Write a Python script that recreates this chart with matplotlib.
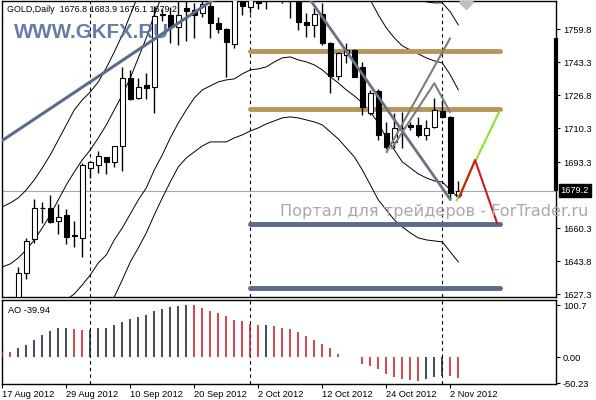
import matplotlib
matplotlib.use("Agg")
import matplotlib.pyplot as plt
import matplotlib.transforms as mtransforms
from matplotlib.patches import Rectangle

# GOLD daily bars, index 0 = 17 Aug 2012 ... index 57 = 5 Nov 2012
opens = [1614.0, 1616.0, 1622.0, 1637.8, 1654.8, 1670.3, 1670.3, 1664.0, 1666.8, 1656.6,
         1655.3, 1690.3, 1691.8, 1695.8, 1693.3, 1701.6, 1735.3, 1725.3, 1732.0, 1730.8,
         1766.9, 1767.0, 1761.1, 1770.3, 1769.5, 1768.1, 1771.5, 1763.1, 1759.8, 1752.3,
         1777.0, 1771.1, 1773.9, 1776.0, 1778.0, 1793.0, 1781.0, 1776.5, 1763.6, 1762.0,
         1767.5, 1753.1, 1736.5, 1747.0, 1749.5, 1740.8, 1718.1, 1729.1, 1707.8, 1703.6,
         1710.3, 1711.9, 1711.8, 1707.0, 1710.8, 1719.1, 1716.1, 1676.8]
highs = [1619.0, 1625.0, 1641.1, 1655.3, 1674.8, 1673.6, 1677.0, 1672.3, 1669.8, 1664.0,
         1692.8, 1694.1, 1699.1, 1695.9, 1701.5, 1741.1, 1739.5, 1735.3, 1737.8, 1771.5,
         1770.0, 1771.1, 1775.5, 1776.0, 1772.8, 1775.5, 1776.0, 1766.1, 1760.3, 1780.0,
         1781.0, 1778.0, 1778.0, 1781.0, 1796.0, 1796.0, 1784.0, 1779.0, 1767.8, 1770.3,
         1772.8, 1753.6, 1748.6, 1752.8, 1749.8, 1743.6, 1729.5, 1729.8, 1713.6, 1717.8,
         1718.6, 1713.6, 1716.1, 1714.5, 1725.3, 1724.5, 1716.3, 1683.9]
lows = [1611.0, 1613.0, 1620.0, 1634.8, 1652.8, 1663.1, 1663.0, 1657.3, 1652.3, 1651.1,
        1646.1, 1685.6, 1687.8, 1687.3, 1691.1, 1689.0, 1724.5, 1724.8, 1724.8, 1718.1,
        1764.0, 1752.8, 1752.0, 1754.0, 1755.3, 1765.8, 1755.3, 1758.1, 1735.8, 1750.3,
        1767.0, 1768.0, 1769.8, 1769.8, 1776.0, 1772.8, 1765.3, 1759.5, 1756.1, 1756.1,
        1752.0, 1728.1, 1734.5, 1742.8, 1735.8, 1717.0, 1717.0, 1704.5, 1699.8, 1700.3,
        1700.3, 1709.5, 1706.1, 1704.5, 1710.3, 1715.3, 1674.5, 1676.1]
closes = [1616.0, 1622.0, 1638.1, 1653.8, 1670.3, 1670.5, 1663.3, 1666.1, 1656.1, 1656.4,
          1692.0, 1693.3, 1696.5, 1693.3, 1701.4, 1735.3, 1724.8, 1731.1, 1730.3, 1766.5,
          1767.5, 1761.1, 1767.0, 1769.1, 1767.0, 1772.5, 1763.1, 1759.8, 1753.6, 1777.5,
          1771.5, 1776.0, 1772.8, 1778.0, 1793.0, 1781.0, 1776.0, 1763.6, 1762.0, 1767.5,
          1752.8, 1736.5, 1747.8, 1749.5, 1736.1, 1721.1, 1728.1, 1707.0, 1701.1, 1710.3,
          1710.6, 1711.1, 1707.0, 1710.6, 1719.5, 1715.8, 1678.1, 1679.2]

# band lines (outer/inner, upper/lower)
band_outer_up = [1671.0, 1673.0, 1675.5, 1679.5, 1684.5, 1690.5, 1697.0, 1704.5, 1712.0, 1719.5,
                 1724.5, 1728.5, 1733.5, 1740.5, 1748.5, 1757.0, 1767.0, 1777.0, 1787.0, 1796.0,
                 1803.0, 1810.0, 1815.0, 1818.0, 1820.0, 1822.0, 1823.0, 1824.0, 1825.0, 1826.0,
                 1827.0, 1828.0, 1829.0, 1830.0, 1831.0, 1832.0, 1832.0, 1832.0, 1831.0, 1830.0,
                 1828.0, 1825.0, 1822.0, 1818.0, 1812.0, 1805.0, 1798.0, 1793.0, 1789.0, 1787.0,
                 1785.0, 1781.0, 1777.0, 1773.5, 1773.0, 1773.0, 1768.5, 1762.0]
band_inner_up = [1641.0, 1642.5, 1645.5, 1649.5, 1654.5, 1660.5, 1667.0, 1674.5, 1682.0, 1688.5,
                 1694.5, 1699.5, 1705.5, 1712.0, 1719.5, 1727.0, 1735.5, 1745.5, 1755.5, 1767.0,
                 1777.0, 1782.0, 1786.0, 1789.0, 1791.0, 1793.0, 1794.0, 1795.0, 1795.0, 1796.0,
                 1797.0, 1798.0, 1799.0, 1800.0, 1801.0, 1802.0, 1802.0, 1802.0, 1801.0, 1800.0,
                 1800.0, 1799.0, 1797.0, 1795.0, 1792.0, 1782.0, 1774.5, 1767.0, 1760.5, 1755.5,
                 1751.5, 1749.5, 1747.5, 1745.5, 1744.0, 1743.0, 1737.0, 1729.5]
band_inner_low = [1581.0, 1584.5, 1589.5, 1597.0, 1604.5, 1612.0, 1617.0, 1620.5, 1624.5, 1627.5,
                  1632.0, 1637.0, 1643.0, 1647.0, 1654.5, 1660.5, 1667.5, 1674.5, 1680.5, 1689.5,
                  1697.0, 1705.5, 1713.0, 1719.5, 1725.5, 1729.5, 1731.5, 1733.5, 1734.5, 1735.0,
                  1737.5, 1739.5, 1740.0, 1741.0, 1743.5, 1745.5, 1746.0, 1744.5, 1743.5, 1742.0,
                  1739.5, 1736.0, 1733.0, 1729.5, 1726.5, 1723.0, 1718.5, 1713.0, 1705.5, 1699.5,
                  1693.5, 1690.5, 1687.5, 1685.5, 1684.0, 1683.5, 1679.5, 1675.5]
band_outer_low = [1551.0, 1554.5, 1562.0, 1569.5, 1574.5, 1579.5, 1584.5, 1587.0, 1592.0, 1597.0,
                  1602.0, 1607.0, 1614.5, 1619.5, 1626.0, 1634.5, 1643.5, 1650.5, 1658.0, 1667.0,
                  1675.5, 1683.5, 1691.0, 1695.5, 1698.5, 1701.5, 1703.5, 1703.5, 1703.5, 1705.5,
                  1707.0, 1709.0, 1710.5, 1712.5, 1714.0, 1715.5, 1716.0, 1715.5, 1714.5, 1713.5,
                  1712.0, 1708.5, 1705.0, 1700.5, 1696.0, 1689.5, 1682.0, 1674.5, 1669.5, 1664.5,
                  1661.0, 1658.0, 1655.5, 1654.5, 1654.0, 1653.5, 1648.5, 1643.5]

# Awesome Oscillator
ao_values = [10.3, 10.1, 17.4, 24.5, 34.2, 43.9, 51.6, 56.8, 57.0, 54.2,
             52.3, 53.5, 56.1, 57.4, 63.2, 69.0, 73.5, 77.4, 81.3, 89.0,
             94.2, 98.1, 100.0, 100.7, 100.2, 95.5, 90.3, 85.8, 79.4, 72.9,
             69.7, 65.2, 63.2, 63.4, 61.3, 56.8, 54.2, 48.4, 41.9, 34.2,
             26.5, 18.1, 7.1, 1.3, 0.4, -12.9, -16.8, -21.9, -32.3, -38.7,
             -42.6, -43.9, -45.2, -41.0, -38.7, -35.5, -36.8, -39.94]

date_labels = ["17 Aug 2012", "29 Aug 2012", "10 Sep 2012", "20 Sep 2012",
               "2 Oct 2012", "12 Oct 2012", "24 Oct 2012", "2 Nov 2012"]
date_label_bars = [0, 8, 16, 24, 32, 40, 48, 56]
month_start_bars = [11, 31, 55]

price_ticks = [1759.8, 1743.3, 1726.8, 1710.3, 1693.3, 1660.3, 1643.8, 1627.3]
last_price = 1679.2
last_open = 1676.8
ao_ticks = [100.7, 0.0, -50.23]
ao_tick_labels = ["100.7", "0.00", "-50.23"]

# drawn objects, (bar index, price)
support_up = ([-0.3, 28.0], [1703.4, 1778.9])
channel_down = ([38.0, 55.96], [1777.3, 1674.95])
fork_long = ([48.05, 55.96], [1698.45, 1755.2])
fork_short = ([48.71, 54.0, 55.96], [1700.45, 1732.8, 1718.45])
path_green = ([56.8, 62.12], [1674.45, 1718.6])
path_red = ([57.15, 59.09, 61.84], [1675.95, 1694.45, 1662.95])
gold_levels = [1749.1, 1719.8]
blue_levels = [1662.45, 1630.45]
level_span = (30.96, 62.2)

W, H = 596, 400
plt.rcParams['font.family'] = ['Liberation Sans', 'DejaVu Sans']
small = 6.7
fig = plt.figure(figsize=(W / 100, H / 100), dpi=100)

ax = fig.add_axes([1.5 / W, (H - 297) / H, 554.5 / W, 296 / H])
ax_ao = fig.add_axes([1.5 / W, (H - 384) / H, 554.5 / W, 84 / H])

xlim = (-0.1, 69.21)
for a in (ax, ax_ao):
    a.set_xlim(*xlim)
    for s in a.spines.values():
        s.set_linewidth(1.0)
        s.set_color('black')
    a.yaxis.tick_right()
    a.tick_params(axis='y', length=3, width=0.8, pad=2, labelsize=small, colors='black')
    for b in month_start_bars:
        a.axvline(b, color='black', lw=0.8, linestyle=(0, (3, 3)), zorder=1)

ax.set_ylim(1625.95, 1773.95)
ax.set_xticks([])
ax.set_yticks(price_ticks)
ax.set_yticklabels([f"{p:.1f}" for p in price_ticks])

# bands
for band in (band_outer_up, band_inner_up, band_inner_low, band_outer_low):
    ax.plot(range(len(band)), band, color='black', lw=0.7, zorder=2)

# current price line
ax.axhline(last_price, color='#a8a8a8', lw=0.8, zorder=1)

# horizontal levels
for lvl in gold_levels:
    ax.plot(level_span, [lvl, lvl], color='#b8955a', lw=3.5, solid_capstyle='round', zorder=3)
for lvl in blue_levels:
    ax.plot(level_span, [lvl, lvl], color='#5a6a8c', lw=3.5, solid_capstyle='round', zorder=3)

# candles
body_w = 0.62
for i in range(len(opens)):
    o, h, l, c = opens[i], highs[i], lows[i], closes[i]
    ax.plot([i, i], [l, h], color='black', lw=1.0, zorder=4, solid_capstyle='butt')
    bottom = min(o, c)
    height = max(abs(c - o), 0.4)
    face = 'white' if c >= o else 'black'
    ax.add_patch(Rectangle((i - body_w / 2, bottom), body_w, height,
                           facecolor=face, edgecolor='black', lw=0.8, zorder=5))

# drawn lines
ax.plot(*support_up, color='#5b6b8c', lw=2.2, zorder=6)
ax.plot(*channel_down, color='#6a7286', lw=2.0, zorder=6)
ax.plot(*fork_long, color='#7d7d7d', lw=1.5, zorder=6)
ax.plot(*fork_short, color='#7d7d7d', lw=1.5, zorder=6)
ax.plot(*path_green, color='#8fe030', lw=1.5, zorder=7)
ax.plot(*path_red, color='#cf1b1b', lw=1.5, zorder=7)
ax.plot([58.0], [1773.5], marker='D', ms=7, color='#c0c0c0', zorder=6)

# right axis markers
trans = mtransforms.blended_transform_factory(ax.transAxes, ax.transData)
ax.plot([1.0, 1.0], [1755.5, last_price], transform=trans, color='black', lw=3,
        solid_capstyle='butt', clip_on=False, zorder=8)
ax.text(1.008, last_open, f"{last_open:.1f}", transform=trans, va='center', ha='left',
        fontsize=small, color='black', clip_on=False, zorder=8)
ax.text(1.008, last_price, f"{last_price:.1f}", transform=trans, va='center', ha='left',
        fontsize=small, color='white', clip_on=False, zorder=9,
        bbox=dict(boxstyle='square,pad=0.2', facecolor='black', edgecolor='black'))

# AO panel
ao_colors = []
for i, v in enumerate(ao_values):
    if i > 0 and v > ao_values[i - 1]:
        ao_colors.append('#101828')
    else:
        ao_colors.append('#c4161c')
ax_ao.vlines(range(len(ao_values)), 0, ao_values, colors=ao_colors, lw=1.1, zorder=3)
ax_ao.set_ylim(-51.6, 110.8)
ax_ao.set_yticks(ao_ticks)
ax_ao.set_yticklabels(ao_tick_labels)
ax_ao.set_xticks(date_label_bars)
ax_ao.set_xticklabels(date_labels, ha='left')
ax_ao.tick_params(axis='x', length=3, width=0.8, pad=1, labelsize=small)
ax_ao.text(7 / 554.5, 0.88, "AO -39.94", transform=ax_ao.transAxes, fontsize=small,
           va='center', ha='left')

# header and watermarks
fig.text(7 / W, 1 - 10 / H, "GOLD,Daily  1676.8 1683.9 1676.1 1679.2", fontsize=6.4,
         va='center', ha='left', color='black', zorder=10)
fig.text(14 / W, 1 - 32 / H, "WWW.GKFX.RU", fontsize=14.8, fontweight='bold',
         color='#5470a0', alpha=0.9, va='center', ha='left', zorder=10)
fig.text(280 / W, 1 - 216 / H, "Портал для трейдеров - ForTrader.ru", fontsize=11.6,
         family='DejaVu Sans', color='#a9a9a9', va='baseline', ha='left', zorder=10)

fig.savefig("out.png", dpi=100)
